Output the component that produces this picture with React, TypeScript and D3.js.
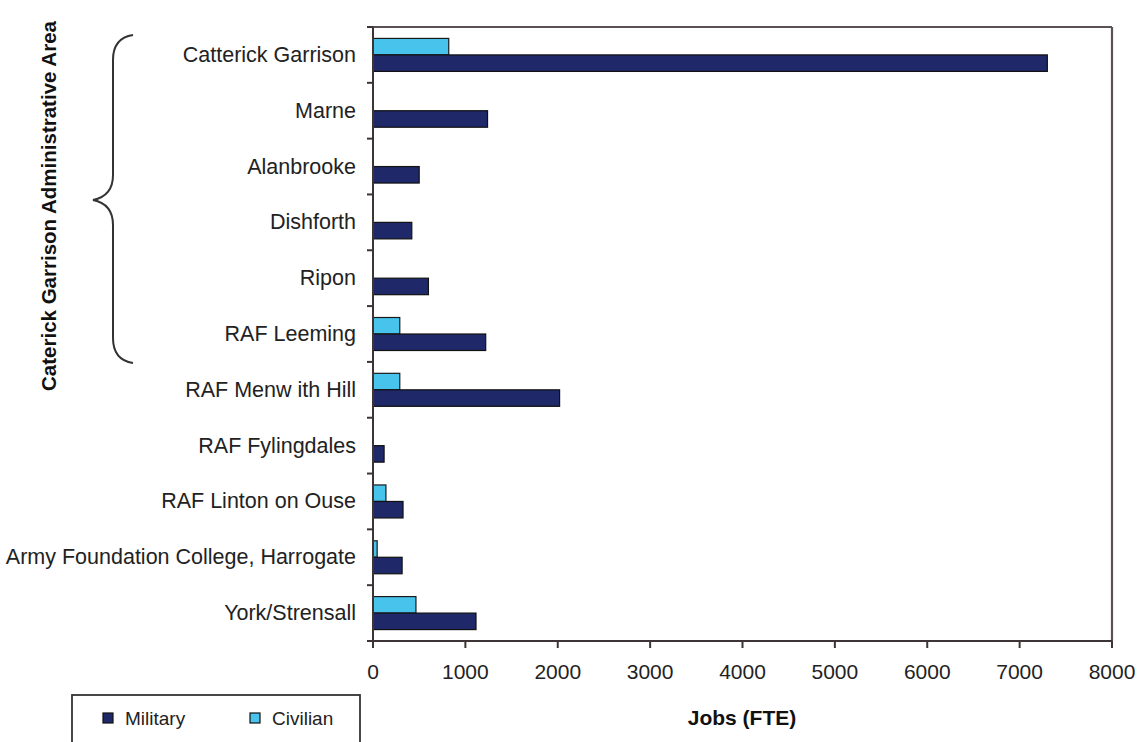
import React from "react";
import * as d3 from "d3";

const categories = [
  "Catterick Garrison",
  "Marne",
  "Alanbrooke",
  "Dishforth",
  "Ripon",
  "RAF Leeming",
  "RAF Menw ith Hill",
  "RAF Fylingdales",
  "RAF Linton on Ouse",
  "Army Foundation College, Harrogate",
  "York/Strensall",
];
const civilian = [820, 0, 0, 0, 0, 290, 290, 0, 140, 45, 465];
const military = [7300, 1240, 500, 420, 600, 1220, 2020, 120, 325, 315, 1115];
const xTicks = [0, 1000, 2000, 3000, 4000, 5000, 6000, 7000, 8000];
const seriesNames = ["Military", "Civilian"];

const W = 1141;
const H = 742;
const left = 373;
const right = 1112;
const top = 27;
const bottom = 641;
const MIL = "#1f2868";
const CIV = "#48c3ec";
const AXIS = "#3d3535";
const FONT = "'Liberation Sans', Arial, sans-serif";

export default function App() {
  const x = d3.scaleLinear().domain([0, 8000]).range([left, right]);
  const y = d3.scaleBand<string>().domain(categories).range([top, bottom]);
  const bw = y.bandwidth();
  const barH = 16.5;
  const groupTop = (c: string) => (y(c) as number) + bw / 2 - barH;

  const brace = d3.path();
  brace.moveTo(133, 35);
  brace.quadraticCurveTo(113, 38, 113, 60);
  brace.lineTo(113, 175);
  brace.quadraticCurveTo(113, 196, 93, 200);
  brace.quadraticCurveTo(113, 204, 113, 225);
  brace.lineTo(113, 338);
  brace.quadraticCurveTo(113, 360, 133, 363);

  return (
    <svg
      width={W}
      height={H}
      style={{ position: "absolute", left: 0, top: 0, background: "#fff" }}
      fontFamily={FONT}
    >
      {/* frame top/right */}
      <line x1={left} y1={top} x2={right} y2={top} stroke="#5a5252" strokeWidth={2.2} />
      <line x1={right} y1={top} x2={right} y2={bottom} stroke="#5a5252" strokeWidth={2.2} />

      {/* bars */}
      {categories.map((c, i) => (
        <g key={c}>
          {civilian[i] > 0 && (
            <rect
              x={x(0)}
              y={groupTop(c)}
              width={x(civilian[i]) - x(0)}
              height={barH}
              fill={CIV}
              stroke="#1a1a1a"
              strokeWidth={1.2}
            />
          )}
          <rect
            x={x(0)}
            y={groupTop(c) + barH}
            width={x(military[i]) - x(0)}
            height={barH}
            fill={MIL}
            stroke="#111"
            strokeWidth={1.2}
          />
        </g>
      ))}

      {/* y axis */}
      <line x1={left} y1={top} x2={left} y2={bottom} stroke={AXIS} strokeWidth={2} />
      {categories.map((c, i) => (
        <line
          key={"yt" + i}
          x1={left - 6}
          x2={left}
          y1={(y(c) as number) + bw}
          y2={(y(c) as number) + bw}
          stroke={AXIS}
          strokeWidth={2}
        />
      ))}
      <line x1={left - 6} x2={left} y1={top} y2={top} stroke={AXIS} strokeWidth={2} />
      {categories.map((c) => (
        <text
          key={"yl" + c}
          x={356}
          y={(y(c) as number) + bw / 2}
          textAnchor="end"
          dominantBaseline="central"
          fontSize={21.5}
          fill="#222"
        >
          {c}
        </text>
      ))}

      {/* x axis */}
      <line x1={left} y1={bottom} x2={right} y2={bottom} stroke={AXIS} strokeWidth={2} />
      {xTicks.map((t) => (
        <g key={"xt" + t}>
          <line x1={x(t)} x2={x(t)} y1={bottom} y2={bottom + 7} stroke={AXIS} strokeWidth={2} />
          <text x={x(t)} y={679} textAnchor="middle" fontSize={21} fill="#222">
            {t}
          </text>
        </g>
      ))}
      <text x={742} y={725} textAnchor="middle" fontSize={21} fontWeight="bold" fill="#111">
        Jobs (FTE)
      </text>

      {/* y title */}
      <text
        transform={`translate(56,206) rotate(-90)`}
        textAnchor="middle"
        fontSize={20.5}
        fontWeight="bold"
        fill="#111"
      >
        Caterick Garrison Administrative Area
      </text>

      {/* brace */}
      <path d={brace.toString()} fill="none" stroke="#333" strokeWidth={2} />

      {/* legend */}
      <rect x={72} y={695} width={288} height={80} fill="#fff" stroke="#333" strokeWidth={1.8} />
      {seriesNames.map((s, i) => (
        <g key={s} transform={`translate(${i === 0 ? 103 : 250},713)`}>
          <rect
            x={0}
            y={0}
            width={10}
            height={10}
            fill={i === 0 ? MIL : CIV}
            stroke="#111"
            strokeWidth={1.2}
          />
          <text x={22} y={5} dominantBaseline="central" fontSize={19} fill="#222">
            {s}
          </text>
        </g>
      ))}
    </svg>
  );
}
